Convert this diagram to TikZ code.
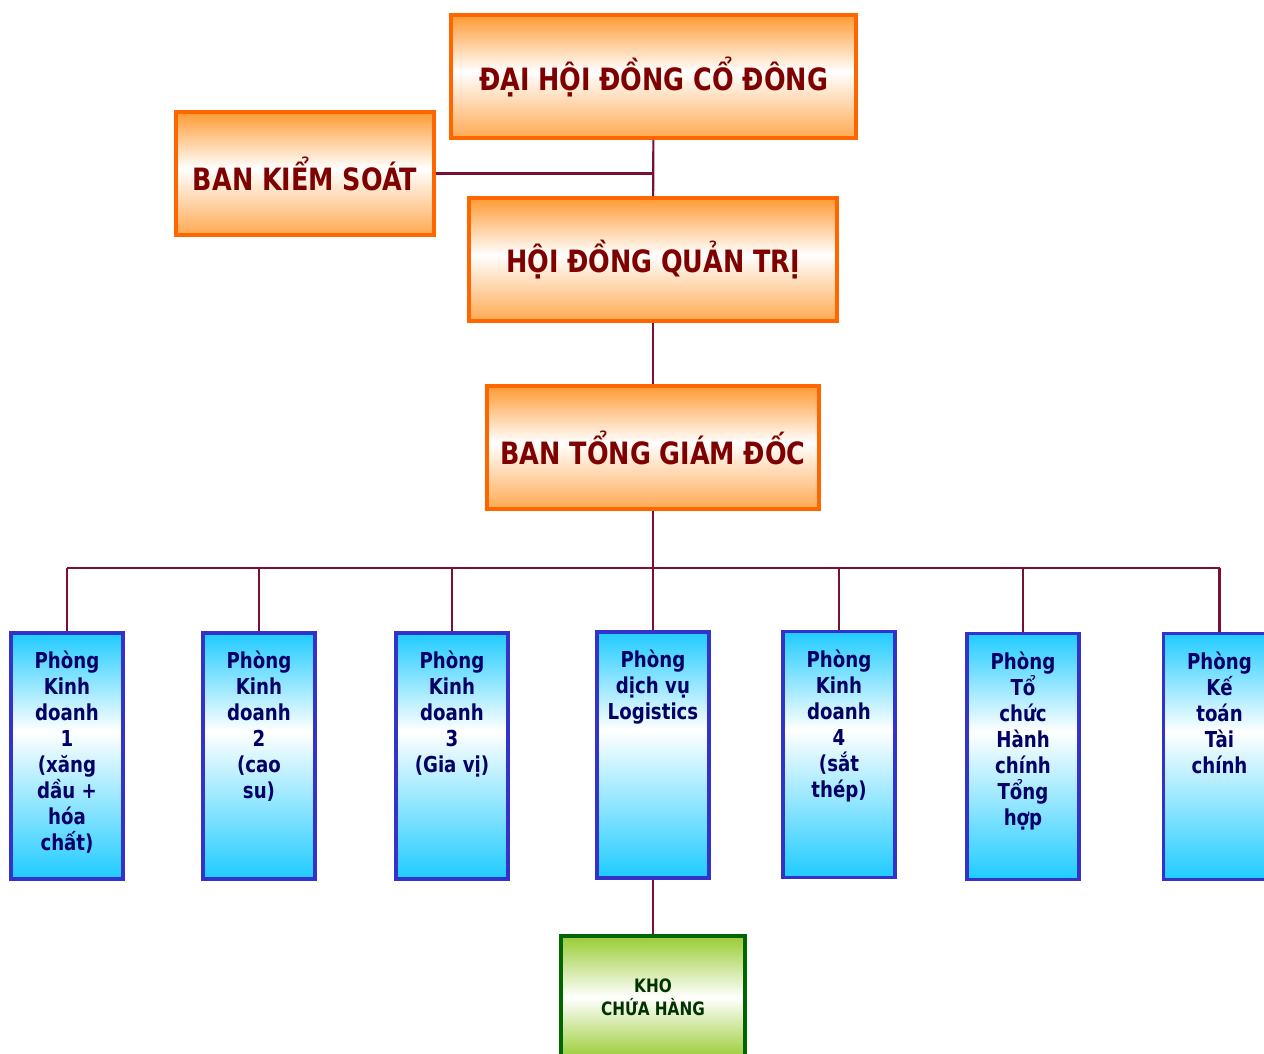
\documentclass[tikz,border=0pt]{standalone}
\usepackage{fontspec}
\setmainfont{DejaVu Sans Condensed}[FakeStretch=0.92]
\definecolor{boxorange}{HTML}{FF6600}
\definecolor{fillorange}{HTML}{FF9A33}
\definecolor{boxblue}{HTML}{3333CC}
\definecolor{fillblue}{HTML}{1FCBFF}
\definecolor{boxgreen}{HTML}{006600}
\definecolor{fillgreen}{HTML}{99CC33}
\definecolor{linkred}{HTML}{7A1035}
\definecolor{textred}{HTML}{7F0000}
\definecolor{textblue}{HTML}{000066}
\definecolor{textgreen}{HTML}{003300}
\pgfdeclareverticalshading{orangeshade}{100bp}{color(0bp)=(fillorange!85);color(25bp)=(fillorange!85);color(52bp)=(white);color(75bp)=(fillorange);color(100bp)=(fillorange)}
\pgfdeclareverticalshading{blueshade}{100bp}{color(0bp)=(fillblue);color(25bp)=(fillblue);color(55bp)=(white);color(75bp)=(fillblue);color(100bp)=(fillblue)}
\pgfdeclareverticalshading{greenshade}{100bp}{color(0bp)=(fillgreen);color(25bp)=(fillgreen);color(50bp)=(white);color(75bp)=(fillgreen);color(100bp)=(fillgreen)}
\begin{document}
\begin{tikzpicture}[x=0.02cm,y=-0.02cm]
\tikzset{board/.style = {draw=boxorange,line width=2pt,shading=orangeshade,minimum height=123*0.02cm,text=textred,font=\fontsize{17.5}{19}\selectfont\bfseries}}
\tikzset{dept/.style = {draw=boxblue,line width=2pt,shading=blueshade,minimum width=112*0.02cm,minimum height=246*0.02cm,inner sep=0pt}}
\tikzset{depttext/.style = {anchor=north,align=center,text=textblue,font=\fontsize{12.5}{14.8}\selectfont\bfseries}}
\tikzset{link/.style = {draw=linkred,line width=1.2pt}}
\useasboundingbox (0,0) rectangle (1264,1054);
% top boxes
\node[board,minimum width=405*0.02cm] (dh) at (653.5,76.5) {ĐẠI HỘI ĐỒNG CỔ ĐÔNG};
\node[board,minimum width=258*0.02cm] (bks) at (305,173.5) {BAN KIỂM SOÁT};
\node[board,minimum width=368*0.02cm] (hd) at (653,259.5) {HỘI ĐỒNG QUẢN TRỊ};
\node[board,minimum width=332*0.02cm] (btgd) at (653,447.5) {BAN TỔNG GIÁM ĐỐC};
% departments
\node[dept] (p1) at (67,756) {};
\node[dept] (p2) at (259,756) {};
\node[dept] (p3) at (452,756) {};
\node[dept] (p4) at (653,755) {};
\node[dept] (p5) at (839,754.5) {};
\node[dept] (p6) at (1023,756.5) {};
\node[dept] (p7) at (1219.5,756.5) {};
\node[depttext] (t1) at ([yshift=-0.27cm]p1.north) {Phòng\\Kinh\\doanh\\1\\(xăng\\dầu +\\hóa\\chất)};
\node[depttext] (t2) at ([yshift=-0.27cm]p2.north) {Phòng\\Kinh\\doanh\\2\\(cao\\su)};
\node[depttext] (t3) at ([yshift=-0.27cm]p3.north) {Phòng\\Kinh\\doanh\\3\\(Gia vị)};
\node[depttext] (t4) at ([yshift=-0.27cm]p4.north) {Phòng\\dịch vụ\\Logistics};
\node[depttext] (t5) at ([yshift=-0.27cm]p5.north) {Phòng\\Kinh\\doanh\\4\\(sắt\\thép)};
\node[depttext] (t6) at ([yshift=-0.27cm]p6.north) {Phòng\\Tổ\\chức\\Hành\\chính\\Tổng\\hợp};
\node[depttext] (t7) at ([yshift=-0.27cm]p7.north) {Phòng\\Kế\\toán\\Tài\\chính};
% warehouse
\node[draw=boxgreen,line width=2pt,shading=greenshade,minimum width=184*0.02cm,minimum height=123*0.02cm,align=center,text=textgreen,font=\fontsize{10.5}{13}\selectfont\bfseries] (kho) at (653,997.5) {KHO\\CHỨA HÀNG};
% links
\coordinate (bus) at (653,568);
\draw[link] (dh) -- (hd);
\draw[link] (bks.east) -- (bks.east -| dh.south);
\draw[link] (hd) -- (btgd);
\draw[link] (btgd) -- (bus);
\draw[link] (bus -| p1.north) -- (bus -| p7.north);
\foreach \p in {p1,p2,p3,p4,p5,p6,p7}
  \draw[link] (bus -| \p.north) -- (\p.north);
\draw[link] (p4) -- (kho);
\end{tikzpicture}
\end{document}
